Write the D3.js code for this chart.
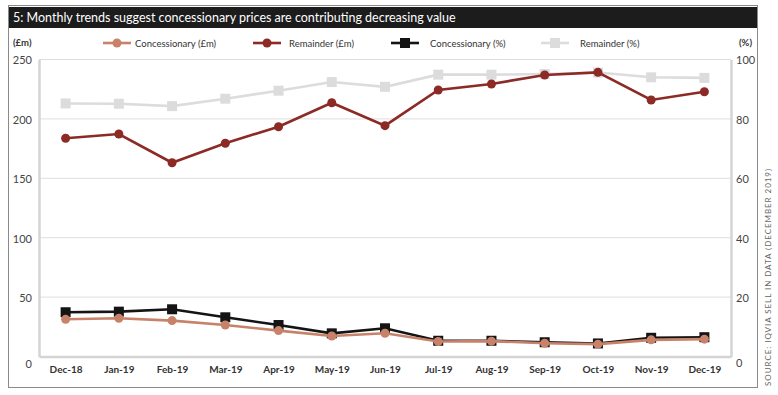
<!DOCTYPE html>
<html>
<head>
<meta charset="utf-8">
<script src="https://cdn.jsdelivr.net/npm/d3@7"></script>
<style>
  body { margin: 0; background: #fff; }
  svg { display: block; font-family: Lato, "Open Sans", sans-serif; }
</style>
</head>
<body>
<svg id="chart" width="778" height="395"></svg>
<script>
// data
var months = ["Dec-18", "Jan-19", "Feb-19", "Mar-19", "Apr-19", "May-19", "Jun-19",
              "Jul-19", "Aug-19", "Sep-19", "Oct-19", "Nov-19", "Dec-19"];
var concGbp = [31.3, 32.2, 30.2, 26.5, 21.8, 17.3, 19.6, 12.6, 12.9, 11.2, 10.4, 14.0, 14.6];
var remGbp = [183.7, 187.3, 163.1, 179.5, 193.4, 213.6, 194.3, 224.3, 229.4, 237.0, 239.2, 215.9, 222.9];
var concPct = [14.9, 15.1, 15.9, 13.2, 10.6, 7.8, 9.5, 5.3, 5.3, 4.8, 4.4, 6.3, 6.5];
var remPct = [85.2, 85.1, 84.3, 86.8, 89.5, 92.4, 90.8, 94.9, 94.9, 95.1, 95.6, 94.0, 93.8];
var leftTicks = [0, 50, 100, 150, 200, 250];
var rightTicks = [0, 20, 40, 60, 80, 100];

var svg = d3.select("#chart");

var margin = {left: 39, right: 731, top: 59.5, bottom: 356.5};

var x = d3.scalePoint()
    .domain(months)
    .range([margin.left, margin.right])
    .padding(0.5);
var yL = d3.scaleLinear().domain([0, 250]).range([margin.bottom, margin.top]);
var yR = d3.scaleLinear().domain([0, 100]).range([margin.bottom, margin.top]);

// frame + title bar
svg.append("rect")
    .attr("x", 8.5).attr("y", 5.5)
    .attr("width", 749).attr("height", 382)
    .attr("fill", "none")
    .attr("stroke", "#8a8a8a")
    .attr("stroke-width", 1);
svg.append("rect")
    .attr("x", 9).attr("y", 7)
    .attr("width", 748).attr("height", 21)
    .attr("fill", "#1c1c1c");
svg.append("text")
    .attr("x", 13).attr("y", 22)
    .attr("fill", "#fff")
    .attr("font-size", 12.5)
    .text("5: Monthly trends suggest concessionary prices are contributing decreasing value");

// gridlines
svg.append("g")
    .selectAll("line")
    .data(leftTicks.slice(1))
    .enter()
    .append("line")
    .attr("x1", margin.left).attr("x2", margin.right)
    .attr("y1", function(d) { return yL(d); })
    .attr("y2", function(d) { return yL(d); })
    .attr("stroke", "#dedede")
    .attr("stroke-width", 1);

// axes
var leftAxis = svg.append("g")
    .attr("transform", "translate(" + margin.left + ",0)")
    .call(d3.axisLeft(yL).tickValues(leftTicks).tickSize(0).tickPadding(7));
var rightAxis = svg.append("g")
    .attr("transform", "translate(" + margin.right + ",0)")
    .call(d3.axisRight(yR).tickValues(rightTicks).tickSize(0).tickPadding(5));
var bottomAxis = svg.append("g")
    .attr("transform", "translate(0," + margin.bottom + ")")
    .call(d3.axisBottom(x).tickSize(0).tickPadding(9));

[leftAxis, rightAxis, bottomAxis].forEach(function(g) {
    g.select(".domain").attr("stroke", "#d4d4d4").attr("stroke-width", 2.5);
    g.selectAll("text").attr("font-family", "Lato, sans-serif").attr("fill", "#444");
});
leftAxis.selectAll("text").attr("font-size", 11).attr("dy", "0.4em");
rightAxis.selectAll("text").attr("font-size", 11).attr("dy", "0.4em");
bottomAxis.selectAll("text").attr("font-size", 10).attr("font-weight", "bold").attr("fill", "#333");
leftAxis.select("text").attr("dy", "1em");
rightAxis.select("text").attr("dy", "0.9em");

// unit labels
svg.append("text").attr("x", 13).attr("y", 46)
    .attr("font-size", 9.5).attr("font-weight", "bold").attr("fill", "#333")
    .text("(£m)");
svg.append("text").attr("x", 752).attr("y", 46)
    .attr("text-anchor", "end")
    .attr("font-size", 9.5).attr("font-weight", "bold").attr("fill", "#333")
    .text("(%)");

// series
var series = [
    {name: "Remainder  (%)", values: remPct, y: yR, color: "#dcdcdc", shape: "square", lx: 541, tx: 580},
    {name: "Concessionary (%)", values: concPct, y: yR, color: "#141414", shape: "square", lx: 391, tx: 430},
    {name: "Remainder (£m)", values: remGbp, y: yL, color: "#8c2a26", shape: "circle", lx: 253, tx: 289},
    {name: "Concessionary (£m)", values: concGbp, y: yL, color: "#c8826a", shape: "circle", lx: 103, tx: 135}
];

function drawMarker(g, shape, color, cx, cy) {
    if (shape === "circle") {
        g.append("circle").attr("cx", cx).attr("cy", cy).attr("r", 4.5).attr("fill", color);
    } else {
        g.append("rect").attr("x", cx - 5).attr("y", cy - 5)
            .attr("width", 10).attr("height", 10).attr("fill", color);
    }
}

series.forEach(function(s) {
    var line = d3.line()
        .x(function(d, i) { return x(months[i]); })
        .y(function(d) { return s.y(d); });
    var g = svg.append("g");
    g.append("path")
        .datum(s.values)
        .attr("d", line)
        .attr("fill", "none")
        .attr("stroke", s.color)
        .attr("stroke-width", 2.6);
    s.values.forEach(function(v, i) {
        drawMarker(g, s.shape, s.color, x(months[i]), s.y(v));
    });

    // legend entry
    var lg = svg.append("g");
    lg.append("line")
        .attr("x1", s.lx).attr("x2", s.lx + 28)
        .attr("y1", 43).attr("y2", 43)
        .attr("stroke", s.color).attr("stroke-width", 2.6);
    drawMarker(lg, s.shape, s.color, s.lx + 14, 43);
    lg.append("text")
        .attr("x", s.tx).attr("y", 46.5)
        .attr("font-size", 9.5).attr("fill", "#333")
        .text(s.name);
});

// source note
svg.append("text")
    .attr("transform", "translate(771,386) rotate(-90)")
    .attr("font-size", 8)
    .attr("letter-spacing", 0.95)
    .attr("fill", "#666")
    .text("SOURCE: IQVIA SELL IN DATA (DECEMBER 2019)");
</script>
</body>
</html>
